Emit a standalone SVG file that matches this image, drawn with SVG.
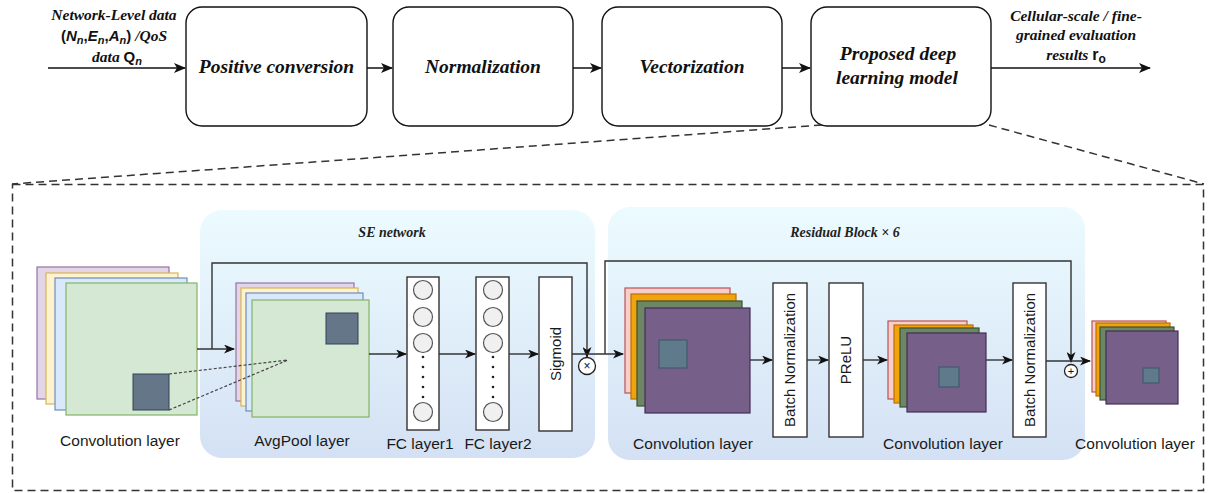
<svg xmlns="http://www.w3.org/2000/svg" width="1209" height="493" viewBox="0 0 1209 493">
<defs>
  <style>
    .box{fill:#fff;stroke:#111;stroke-width:1.4}
    .ttl{font-family:"Liberation Serif",serif;font-weight:bold;font-style:italic;font-size:19.5px;fill:#111}
    .lbl{font-family:"Liberation Serif",serif;font-weight:bold;font-style:italic;font-size:15.5px;fill:#111}
    .ss{font-family:"Liberation Sans",Arial,sans-serif;font-weight:bold;fill:#111}
    .sec{font-family:"Liberation Serif",serif;font-weight:bold;font-style:italic;font-size:14px;fill:#222}
    .cap{font-family:"Liberation Sans",Arial,sans-serif;font-size:15.5px;fill:#1a1a1a}
    .vtxt{font-family:"Liberation Sans",Arial,sans-serif;font-size:15px;fill:#1a1a1a}
    .line{fill:none;stroke:#111;stroke-width:1.5}
    .bline{fill:none;stroke:#333;stroke-width:1.4}
    .dash{fill:none;stroke:#333;stroke-width:1.5;stroke-dasharray:8 5}
    .dot{fill:none;stroke:#444;stroke-width:1.2;stroke-dasharray:3 2}
    .panel{fill:url(#pg)}
    .vbox{fill:#fff;stroke:#333;stroke-width:1.4}
    .nc{fill:#f0f0f0;stroke:#555;stroke-width:1.2}
    .p1{fill:#e1d5e7;stroke:#9673a6;stroke-width:1.2}
    .y1{fill:#fff2cc;stroke:#d6b656;stroke-width:1.2}
    .b1{fill:#dae8fc;stroke:#6c8ebf;stroke-width:1.2}
    .g1{fill:#d5e8d4;stroke:#82b366;stroke-width:1.2}
    .sq{fill:#647687;stroke:#314354;stroke-width:1}
    .pk{fill:#f8cecc;stroke:#b85450;stroke-width:1.2}
    .or{fill:#f0a30a;stroke:#bd7000;stroke-width:1.2}
    .gr{fill:#6d8764;stroke:#3a5431;stroke-width:1.2}
    .pu{fill:#76608a;stroke:#432d57;stroke-width:1.2}
    .sq2{fill:#5f7a8a;stroke:#3d5566;stroke-width:1}
    .op{fill:#fff;stroke:#222;stroke-width:1.3}
  </style>
  <linearGradient id="pg" x1="0" y1="0" x2="0" y2="1">
    <stop offset="0" stop-color="#ecfbff"/>
    <stop offset="1" stop-color="#d4e1f4"/>
  </linearGradient>
  <marker id="ah" viewBox="0 0 12 10" refX="11" refY="5" markerWidth="12" markerHeight="10" markerUnits="userSpaceOnUse" orient="auto">
    <path d="M0,0 L12,5 L0,10 L3,5 Z" fill="#111"/>
  </marker>
  <marker id="ah2" viewBox="0 0 11 9" refX="10" refY="4.5" markerWidth="11" markerHeight="9" markerUnits="userSpaceOnUse" orient="auto">
    <path d="M0,0 L11,4.5 L0,9 L3,4.5 Z" fill="#111"/>
  </marker>
</defs>
<rect width="1209" height="493" fill="#fff"/>

<!-- top pipeline -->
<g id="input-label">
  <text class="lbl" x="114" y="20" text-anchor="middle">Network-Level data</text>
  <text x="114" y="41" text-anchor="middle" font-size="15"><tspan class="ss">(</tspan><tspan class="ss" font-style="italic">N</tspan><tspan class="ss" font-weight="normal" font-style="italic" font-size="11" dy="3">n</tspan><tspan class="ss" dy="-3">,</tspan><tspan class="ss" font-style="italic">E</tspan><tspan class="ss" font-weight="normal" font-style="italic" font-size="11" dy="3">n</tspan><tspan class="ss" dy="-3">,</tspan><tspan class="ss" font-style="italic">A</tspan><tspan class="ss" font-weight="normal" font-style="italic" font-size="11" dy="3">n</tspan><tspan class="ss" dy="-3">)</tspan><tspan class="lbl"> /QoS</tspan></text>
  <text x="117" y="62" text-anchor="middle" font-size="15"><tspan class="lbl">data </tspan><tspan class="ss">Q</tspan><tspan class="ss" font-weight="normal" font-style="italic" font-size="11" dy="3">n</tspan></text>
</g>
<g id="positive-conversion">
  <rect class="box" x="186" y="7" width="181" height="119" rx="16"/>
  <text class="ttl" x="276.5" y="73" text-anchor="middle">Positive conversion</text>
</g>
<g id="normalization">
  <rect class="box" x="393" y="7" width="180" height="119" rx="16"/>
  <text class="ttl" x="483" y="73" text-anchor="middle">Normalization</text>
</g>
<g id="vectorization">
  <rect class="box" x="602" y="7" width="180" height="119" rx="16"/>
  <text class="ttl" x="692" y="73" text-anchor="middle">Vectorization</text>
</g>
<g id="proposed-model">
  <rect class="box" x="811" y="7" width="180" height="119" rx="16"/>
  <text class="ttl" x="898" y="60" text-anchor="middle">Proposed deep</text>
  <text class="ttl" x="897" y="84" text-anchor="middle">learning model</text>
</g>
<g id="output-label">
  <text class="lbl" x="1076" y="21" text-anchor="middle">Cellular-scale / fine-</text>
  <text class="lbl" x="1076" y="40" text-anchor="middle">grained evaluation</text>
  <text x="1076" y="60" text-anchor="middle" font-size="15"><tspan class="lbl">results </tspan><tspan class="ss" font-size="16">r</tspan><tspan class="ss" font-weight="normal" font-size="12" dy="3">o</tspan></text>
</g>

<g id="top-connectors">
  <line class="line" x1="48" y1="68" x2="185" y2="68" marker-end="url(#ah)"/>
  <line class="line" x1="367" y1="68" x2="392" y2="68" marker-end="url(#ah)"/>
  <line class="line" x1="573" y1="68" x2="601" y2="68" marker-end="url(#ah)"/>
  <line class="line" x1="782" y1="68" x2="810" y2="68" marker-end="url(#ah)"/>
  <line class="line" x1="991" y1="68" x2="1150" y2="68" marker-end="url(#ah)"/>
</g>

<!-- zoom-out outline -->
<g id="detail-frame">
  <line class="dash" x1="822" y1="125" x2="12" y2="184"/>
  <line class="dash" x1="989" y1="125" x2="1204" y2="184"/>
  <rect class="dash" x="12.5" y="184.5" width="1191" height="306"/>
</g>

<!-- panels -->
<g id="se-network">
  <rect class="panel" x="200" y="210" width="395" height="248" rx="22"/>
  <text class="sec" x="392" y="237" text-anchor="middle">SE network</text>
</g>
<g id="residual-block">
  <rect class="panel" x="608" y="207" width="477" height="253" rx="22"/>
  <text class="sec" x="845" y="237" text-anchor="middle">Residual Block × 6</text>
</g>

<g id="conv-input">
  <rect class="p1" x="37" y="267" width="132" height="132"/>
  <rect class="y1" x="46" y="273" width="132" height="131"/>
  <rect class="b1" x="55" y="278" width="132" height="132"/>
  <rect class="g1" x="66" y="283" width="131" height="132"/>
  <rect class="sq" x="133" y="374" width="36" height="36"/>
  <text class="cap" x="120" y="446" text-anchor="middle">Convolution layer</text>
</g>

<g id="avgpool">
  <rect class="p1" x="236" y="283" width="118" height="118"/>
  <rect class="y1" x="241" y="288" width="117" height="118"/>
  <rect class="b1" x="246" y="293" width="117" height="118"/>
  <rect class="g1" x="252" y="300" width="117" height="117"/>
  <rect class="sq" x="326" y="313" width="32" height="31"/>
  <text class="cap" x="302" y="446" text-anchor="middle">AvgPool layer</text>
</g>

<g id="fc1">
  <rect class="vbox" x="407" y="277" width="32" height="153"/>
  <circle class="nc" cx="423" cy="290" r="9.5"/>
  <circle class="nc" cx="423" cy="317" r="9.5"/>
  <circle class="nc" cx="423" cy="343" r="9.5"/>
  <circle class="nc" cx="423" cy="412" r="9.5"/>
  <g fill="#222"><circle cx="423" cy="357" r="1.3"/><circle cx="423" cy="367" r="1.3"/><circle cx="423" cy="377" r="1.3"/><circle cx="423" cy="387" r="1.3"/><circle cx="423" cy="397" r="1.3"/></g>
  <text class="cap" x="420" y="449" text-anchor="middle">FC layer1</text>
</g>

<g id="fc2">
  <rect class="vbox" x="476" y="277" width="33" height="153"/>
  <circle class="nc" cx="493" cy="290" r="9.5"/>
  <circle class="nc" cx="493" cy="317" r="9.5"/>
  <circle class="nc" cx="493" cy="343" r="9.5"/>
  <circle class="nc" cx="493" cy="412" r="9.5"/>
  <g fill="#222"><circle cx="493" cy="357" r="1.3"/><circle cx="493" cy="367" r="1.3"/><circle cx="493" cy="377" r="1.3"/><circle cx="493" cy="387" r="1.3"/><circle cx="493" cy="397" r="1.3"/></g>
  <text class="cap" x="498" y="449" text-anchor="middle">FC layer2</text>
</g>

<g id="sigmoid">
  <rect class="vbox" x="539" y="277" width="33" height="154"/>
  <text class="vtxt" transform="translate(561 354) rotate(-90)" text-anchor="middle">Sigmoid</text>
</g>

<g id="multiply">
  <circle class="op" cx="587" cy="366" r="8.5"/>
  <text x="587" y="370" text-anchor="middle" font-family="Liberation Sans, Arial, sans-serif" font-size="12" fill="#111">×</text>
</g>

<g id="res-conv1">
  <rect class="pk" x="625" y="288" width="105" height="105"/>
  <rect class="or" x="631" y="294" width="105" height="105"/>
  <rect class="gr" x="637" y="301" width="105" height="105"/>
  <rect class="pu" x="645" y="308" width="105" height="105"/>
  <rect class="sq2" x="659" y="340" width="28" height="28"/>
  <text class="cap" x="693" y="449" text-anchor="middle">Convolution layer</text>
</g>

<g id="bn1">
  <rect class="vbox" x="773" y="283" width="34" height="154"/>
  <text class="vtxt" transform="translate(795 360) rotate(-90)" text-anchor="middle">Batch Normalization</text>
</g>

<g id="prelu">
  <rect class="vbox" x="829" y="283" width="34" height="154"/>
  <text class="vtxt" transform="translate(851 360) rotate(-90)" text-anchor="middle">PReLU</text>
</g>

<g id="res-conv2">
  <rect class="pk" x="888" y="321" width="79" height="78"/>
  <rect class="or" x="894" y="325" width="79" height="78"/>
  <rect class="gr" x="900" y="328" width="79" height="79"/>
  <rect class="pu" x="907" y="333" width="79" height="79"/>
  <rect class="sq2" x="939" y="367" width="20" height="20"/>
  <text class="cap" x="943" y="449" text-anchor="middle">Convolution layer</text>
</g>

<g id="bn2">
  <rect class="vbox" x="1013" y="283" width="33" height="154"/>
  <text class="vtxt" transform="translate(1035 360) rotate(-90)" text-anchor="middle">Batch Normalization</text>
</g>

<g id="add">
  <circle class="op" cx="1071" cy="371" r="6.5"/>
  <text x="1071" y="375" text-anchor="middle" font-family="Liberation Sans, Arial, sans-serif" font-size="11" fill="#111">+</text>
</g>

<g id="conv-output">
  <rect class="pk" x="1092" y="321" width="74" height="71"/>
  <rect class="or" x="1096" y="323" width="74" height="73"/>
  <rect class="gr" x="1100" y="327" width="74" height="73"/>
  <rect class="pu" x="1106" y="331" width="72" height="73"/>
  <rect class="sq2" x="1143" y="368" width="16" height="15"/>
  <text class="cap" x="1135" y="449" text-anchor="middle">Convolution layer</text>
</g>

<g id="connectors">
  <line class="dot" x1="169" y1="374" x2="288" y2="360"/>
  <line class="dot" x1="169" y1="410" x2="288" y2="360"/>
  <line class="bline" x1="197" y1="349" x2="234" y2="349" marker-end="url(#ah2)"/>
  <polyline class="bline" points="212,349 212,263 587,263 587,357" marker-end="url(#ah2)"/>
  <line class="bline" x1="369" y1="354" x2="406" y2="354" marker-end="url(#ah2)"/>
  <line class="bline" x1="439" y1="354" x2="475" y2="354" marker-end="url(#ah2)"/>
  <line class="bline" x1="509" y1="354" x2="538" y2="354" marker-end="url(#ah2)"/>
  <line class="bline" x1="572" y1="354" x2="623" y2="354" marker-end="url(#ah2)"/>
  <polyline class="bline" points="605,354 605,261 1071,261 1071,362" marker-end="url(#ah2)"/>
  <line class="bline" x1="750" y1="360" x2="772" y2="360" marker-end="url(#ah2)"/>
  <line class="bline" x1="807" y1="360" x2="828" y2="360" marker-end="url(#ah2)"/>
  <line class="bline" x1="863" y1="360" x2="887" y2="360" marker-end="url(#ah2)"/>
  <line class="bline" x1="986" y1="360" x2="1012" y2="360" marker-end="url(#ah2)"/>
  <line class="bline" x1="1046" y1="361" x2="1090" y2="361" marker-end="url(#ah2)"/>
</g>
</svg>
